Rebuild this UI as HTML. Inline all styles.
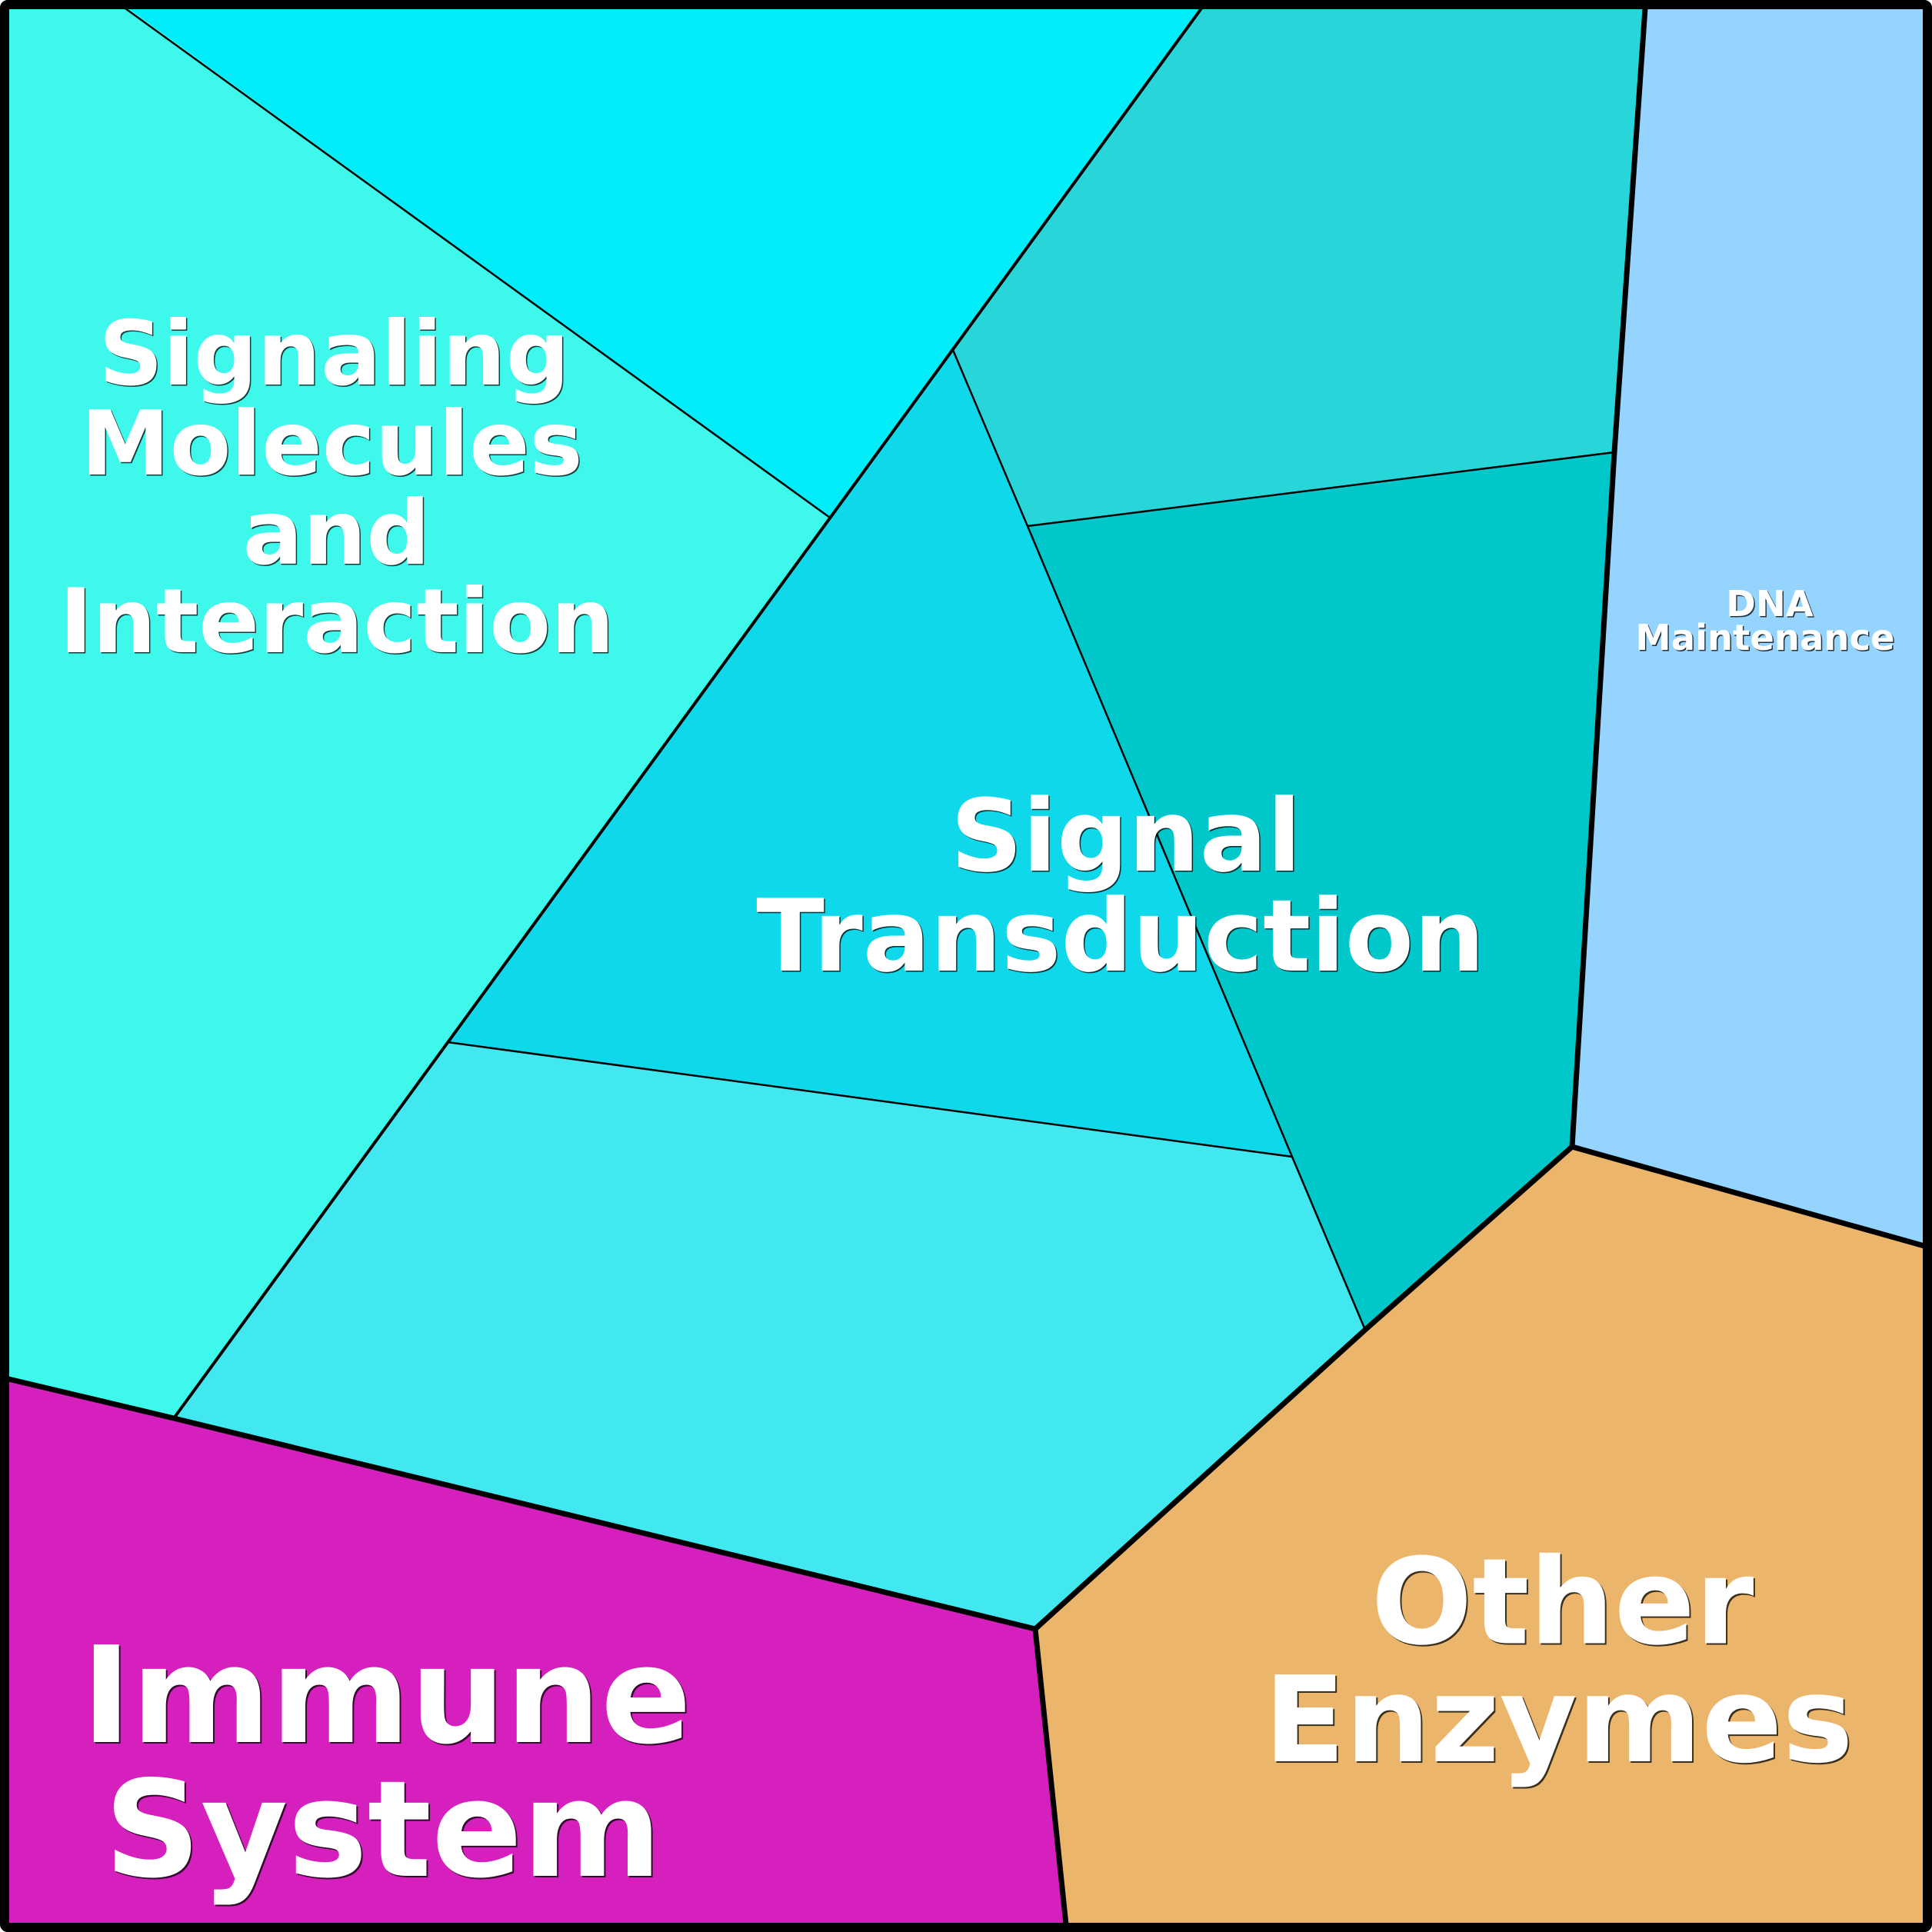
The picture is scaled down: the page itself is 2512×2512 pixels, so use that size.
<!DOCTYPE html>
<html>
<head>
<meta charset="utf-8">
<style>
html,body{margin:0;padding:0;background:#fff;}
svg{display:block;}
text{font-family:"DejaVu Sans","Liberation Sans",sans-serif;font-weight:bold;text-anchor:middle;}
.sh{fill:#000;fill-opacity:0.75;}
.fg{fill:#fff;}
</style>
</head>
<body>
<svg width="2512" height="2512" viewBox="0 0 2512 2512" xmlns="http://www.w3.org/2000/svg">
  <!-- regions -->
  <polygon points="163,11 1562,11 1079,673" fill="#00EEFA"/>
  <polygon points="8,8 163,8 1079,673 582,1355 226,1844 8,1793" fill="#3DF8EB"/>
  <polygon points="1562,8 2139,8 2099,588 1336,684 1239,455" fill="#28D6DA"/>
  <polygon points="1336,684 2099,588 2044,1491 1775,1729 1680,1504" fill="#00C8CA"/>
  <polygon points="1239,455 1336,684 1680,1504 582,1355 1079,673" fill="#0FD8EA"/>
  <polygon points="582,1355 1680,1504 1775,1729 1346,2118 226,1844" fill="#42E8F0"/>
  <polygon points="2139,8 2504,8 2504,1620 2044,1491 2099,588" fill="#94D4FE"/>
  <polygon points="8,1793 226,1844 1346,2118 1386,2504 8,2504" fill="#D620BE"/>
  <polygon points="2044,1491 2504,1620 2504,2504 1386,2504 1346,2118 1775,1729" fill="#EBB66B"/>

  <!-- thin lines -->
  <g stroke="#000" stroke-width="2.5" fill="none" stroke-linejoin="round">
    <line x1="163" y1="11" x2="1079" y2="673"/>
    <polyline points="1239,455 1336,684 1680,1504 1775,1729"/>
    <line x1="1336" y1="684" x2="2099" y2="588"/>
    <line x1="582" y1="1355" x2="1680" y2="1504"/>
  </g>
  <!-- medium line -->
  <g stroke="#000" stroke-width="4" fill="none">
    <line x1="1562" y1="11" x2="226" y2="1844"/>
  </g>
  <!-- thick lines -->
  <g stroke="#000" stroke-width="7" fill="none" stroke-linejoin="round">
    <polyline points="2139,11 2099,588 2044,1491"/>
    <polyline points="2044,1491 1775,1729 1346,2118"/>
    <line x1="2044" y1="1491" x2="2502" y2="1620"/>
    <polyline points="11,1793 226,1844 1346,2118"/>
    <line x1="1346" y1="2118" x2="1386" y2="2502"/>
  </g>

  <!-- outer frame -->
  <rect x="6" y="6" width="2500" height="2500" rx="4" ry="4" fill="none" stroke="#000" stroke-width="12"/>

  <!-- labels: Signaling Molecules and Interaction -->
  <g font-size="116">
    <text class="sh" x="436" y="501.5">Signaling</text>
    <text class="fg" x="434.5" y="500">Signaling</text>
    <text class="sh" x="433" y="618.5">Molecules</text>
    <text class="fg" x="431.5" y="617">Molecules</text>
    <text class="sh" x="439" y="734.5">and</text>
    <text class="fg" x="437.5" y="733">and</text>
    <text class="sh" x="439.5" y="849.5">Interaction</text>
    <text class="fg" x="438" y="848">Interaction</text>
  </g>

  <!-- Signal Transduction -->
  <g font-size="130">
    <text class="sh" x="1465.5" y="1133.5">Signal</text>
    <text class="fg" x="1464" y="1132">Signal</text>
    <text class="sh" x="1458.5" y="1263.5">Transduction</text>
    <text class="fg" x="1457" y="1262">Transduction</text>
  </g>

  <!-- DNA Maintenance -->
  <g font-size="46.5">
    <text class="sh" x="2302.5" y="802.5">DNA</text>
    <text class="fg" x="2301" y="801">DNA</text>
    <text class="sh" x="2296.5" y="846.5">Maintenance</text>
    <text class="fg" x="2295" y="845">Maintenance</text>
  </g>

  <!-- Other Enzymes -->
  <g font-size="155">
    <text class="sh" x="2033.5" y="2138.5">Other</text>
    <text class="fg" x="2031.5" y="2136.5">Other</text>
    <text class="sh" x="2028.5" y="2292">Enzymes</text>
    <text class="fg" x="2026.5" y="2290">Enzymes</text>
  </g>

  <!-- Immune System -->
  <g font-size="174">
    <text class="sh" x="504.5" y="2267">Immune</text>
    <text class="fg" x="502.5" y="2265">Immune</text>
    <text class="sh" x="500" y="2441">System</text>
    <text class="fg" x="498" y="2439">System</text>
  </g>
</svg>
</body>
</html>
